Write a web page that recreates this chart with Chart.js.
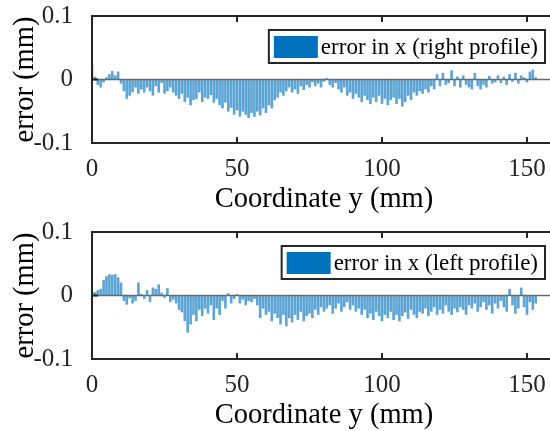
<!DOCTYPE html>
<html><head><meta charset="utf-8">
<script src="https://cdn.jsdelivr.net/npm/chart.js@4/dist/chart.umd.min.js"></script>
<style>
html,body{margin:0;padding:0;background:#fff;overflow:hidden;width:550px;height:431px;}
.wrap{position:absolute;left:0;width:570px;height:215px;}
canvas{display:block;}
</style></head><body>
<div class="wrap" style="top:0"><canvas id="c1" width="570" height="215"></canvas></div>
<div class="wrap" style="top:216px"><canvas id="c2" width="570" height="215"></canvas></div>
<script>
// Coordinate y (mm) of each bar
const coordY = [0,1,2,3,4,5,6,7,8,9,10,11,12,13,14,15,16,17,18,19,20,21,22,23,24,25,26,27,28,29,30,31,32,33,34,35,36,37,38,39,40,41,42,43,44,45,46,47,48,49,50,51,52,53,54,55,56,57,58,59,60,61,62,63,64,65,66,67,68,69,70,71,72,73,74,75,76,77,78,79,80,81,82,83,84,85,86,87,88,89,90,91,92,93,94,95,96,97,98,99,100,101,102,103,104,105,106,107,108,109,110,111,112,113,114,115,116,117,118,119,120,121,122,123,124,125,126,127,128,129,130,131,132,133,134,135,136,137,138,139,140,141,142,143,144,145,146,147,148,149,150,151,152,153];

// error in x (right profile), mm
const errRight = [0.022,0.004,-0.008,-0.012,-0.004,0.003,0.008,0.013,0.006,0.012,
-0.006,-0.018,-0.03,-0.025,-0.02,-0.012,-0.022,-0.015,-0.02,-0.012,
-0.018,-0.025,-0.01,-0.02,-0.005,-0.022,-0.018,-0.012,-0.02,-0.025,
-0.03,-0.022,-0.035,-0.028,-0.04,-0.032,-0.03,-0.02,-0.035,-0.028,
-0.03,-0.024,-0.036,-0.03,-0.04,-0.045,-0.036,-0.05,-0.044,-0.055,
-0.048,-0.058,-0.05,-0.055,-0.06,-0.052,-0.058,-0.05,-0.056,-0.045,
-0.052,-0.04,-0.045,-0.032,-0.028,-0.02,-0.025,-0.018,-0.012,-0.02,
-0.015,-0.022,-0.01,-0.016,-0.008,-0.012,-0.004,-0.01,-0.006,-0.012,
-0.003,0.002,-0.008,-0.012,-0.005,-0.015,-0.02,-0.012,-0.025,-0.02,
-0.03,-0.022,-0.028,-0.035,-0.025,-0.032,-0.038,-0.028,-0.035,-0.025,
-0.038,-0.03,-0.04,-0.032,-0.028,-0.038,-0.03,-0.042,-0.035,-0.025,
-0.032,-0.02,-0.025,-0.018,-0.022,-0.015,-0.02,-0.01,-0.015,0.008,
-0.01,0.01,-0.008,-0.005,0.014,-0.01,0.004,-0.012,0.006,-0.008,
-0.012,-0.015,0.01,-0.01,-0.015,-0.008,-0.012,0.005,-0.006,-0.004,
0.006,-0.005,0.004,-0.008,0.008,-0.003,0.01,-0.006,0.006,0.003,
-0.004,0.012,0.015,0.003];

// error in x (left profile), mm
const errLeft = [0.003,0.005,0.008,0.01,0.024,0.03,0.033,0.032,0.033,0.028,
0.02,-0.008,-0.014,-0.004,-0.012,-0.008,0.02,0.002,-0.005,0.008,
-0.01,0.012,0.01,0.017,0.004,-0.003,0.011,-0.01,-0.006,-0.012,
-0.022,-0.026,-0.04,-0.058,-0.045,-0.03,-0.04,-0.022,-0.032,-0.02,
-0.028,-0.015,-0.038,-0.02,-0.03,-0.008,-0.02,0.003,-0.012,-0.005,
0.002,-0.012,-0.006,-0.015,-0.008,-0.01,-0.005,-0.015,-0.035,-0.02,
-0.03,-0.025,-0.04,-0.028,-0.035,-0.045,-0.03,-0.048,-0.035,-0.042,
-0.03,-0.038,-0.025,-0.04,-0.032,-0.028,-0.035,-0.022,-0.03,-0.018,
-0.025,-0.02,-0.015,-0.028,-0.02,-0.012,-0.025,-0.018,-0.01,-0.022,
-0.015,-0.025,-0.02,-0.03,-0.022,-0.035,-0.028,-0.038,-0.025,-0.032,
-0.04,-0.03,-0.035,-0.025,-0.038,-0.03,-0.04,-0.032,-0.026,-0.036,
-0.022,-0.03,-0.035,-0.025,-0.028,-0.02,-0.032,-0.025,-0.018,-0.03,
-0.022,-0.028,-0.015,-0.025,-0.03,-0.02,-0.026,-0.018,-0.022,-0.03,
-0.015,-0.02,-0.012,-0.025,-0.018,-0.01,-0.022,-0.015,-0.028,-0.012,
-0.02,-0.008,-0.018,-0.025,0.01,-0.015,-0.028,-0.02,0.012,-0.018,
-0.03,-0.01,-0.022,-0.012];

const xTickValues = [0,50,100,150];
const xTickLabels = ['0','50','100','150'];
const yTickValues = [-0.1,0,0.1];
const yTickLabels = ['-0.1','0','0.1'];

const FONT = '"Liberation Serif", "Times New Roman", serif';
const AX = '#262626';
const BAR = 'rgba(0,114,189,0.64)';

const framePlugin = {
  id: 'frame',
  afterDatasetsDraw(chart) {
    const ctx = chart.ctx, a = chart.chartArea, xs = chart.scales.x, ys = chart.scales.y;
    ctx.save();
    // baseline
    const y0 = ys.getPixelForValue(0);
    ctx.strokeStyle = '#6a6a6a'; ctx.lineWidth = 1.5;
    ctx.beginPath(); ctx.moveTo(a.left, y0); ctx.lineTo(a.right, y0); ctx.stroke();
    // box
    ctx.strokeStyle = AX; ctx.lineWidth = 2;
    ctx.beginPath();
    ctx.moveTo(a.right, a.top); ctx.lineTo(a.left, a.top); ctx.lineTo(a.left, a.bottom); ctx.lineTo(a.right, a.bottom);
    ctx.stroke();
    // inward ticks
    ctx.beginPath();
    xTickValues.forEach(v => {
      const px = xs.getPixelForValue(v);
      ctx.moveTo(px, a.top); ctx.lineTo(px, a.top + 6);
      ctx.moveTo(px, a.bottom); ctx.lineTo(px, a.bottom - 6);
    });
    yTickValues.forEach(v => {
      const py = ys.getPixelForValue(v);
      ctx.moveTo(a.left, py); ctx.lineTo(a.left + 6, py);
    });
    ctx.stroke();
    // legend
    const label = chart.data.datasets[0].label;
    ctx.font = '23px ' + FONT;
    const tw = ctx.measureText(label).width;
    const boxR = 545, boxT = a.top + 14, boxB = a.top + 47;
    const textX = boxR - 7 - tw;
    const patchR = textX - 3, patchL = patchR - 44;
    const boxL = patchL - 5;
    ctx.fillStyle = '#fff';
    ctx.fillRect(boxL, boxT, boxR - boxL, boxB - boxT);
    ctx.strokeStyle = AX; ctx.lineWidth = 2;
    ctx.strokeRect(boxL, boxT, boxR - boxL, boxB - boxT);
    ctx.fillStyle = '#0072BD';
    ctx.fillRect(patchL, boxT + 6, 44, 22);
    ctx.fillStyle = '#000';
    ctx.textBaseline = 'middle'; ctx.textAlign = 'left';
    ctx.fillText(label, textX, (boxT + boxB) / 2 + 1);
    ctx.restore();
  }
};

function makeChart(id, values, label) {
  return new Chart(document.getElementById(id), {
    type: 'bar',
    data: {
      datasets: [{
        label: label,
        data: values.map((v, i) => ({ x: coordY[i], y: v })),
        backgroundColor: BAR,
        borderWidth: 0,
        barThickness: 2
      }]
    },
    options: {
      responsive: false, animation: false, devicePixelRatio: 1,
      layout: { padding: { top: 16, right: 14, left: 0, bottom: 0 } },
      plugins: { legend: { display: false }, tooltip: { enabled: false } },
      scales: {
        x: {
          type: 'linear', min: 0, max: 160, offset: false,
          grid: { display: false }, border: { display: false },
          afterBuildTicks: s => { s.ticks = xTickValues.map(v => ({ value: v })); },
          ticks: {
            font: { family: FONT, size: 25 }, color: AX, padding: 3, maxRotation: 0, autoSkip: false,
            callback: v => xTickLabels[xTickValues.indexOf(v)]
          },
          title: { display: true, text: 'Coordinate y (mm)', color: '#000',
                   font: { family: FONT, size: 28.5, lineHeight: 1 }, padding: { top: 0, bottom: 1 } },
          afterFit: s => { s.height = 72; s.paddingLeft = 0; s.paddingRight = 0; }
        },
        y: {
          min: -0.1, max: 0.1,
          grid: { display: false }, border: { display: false },
          afterBuildTicks: s => { s.ticks = yTickValues.map(v => ({ value: v })); },
          ticks: {
            font: { family: FONT, size: 25 }, color: AX, padding: 11,
            callback: v => yTickLabels[yTickValues.indexOf(v)]
          },
          title: { display: true, text: 'error (mm)', color: '#000',
                   font: { family: FONT, size: 28.5, lineHeight: 1 }, padding: { top: 11, bottom: 0 } },
          afterFit: s => { s.width = 92; s.paddingTop = 0; s.paddingBottom = 0; }
        }
      }
    },
    plugins: [framePlugin]
  });
}

makeChart('c1', errRight, 'error in x (right profile)');
makeChart('c2', errLeft, 'error in x (left profile)');
</script>
</body></html>
